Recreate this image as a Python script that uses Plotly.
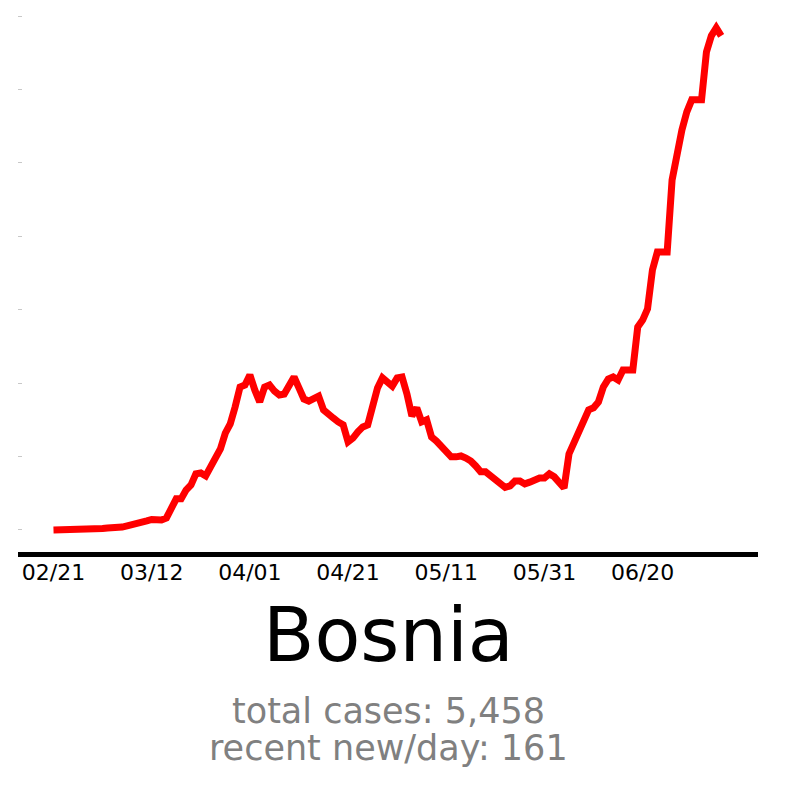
import pandas as pd
import plotly.graph_objects as go

# ---- data ----
start_date = "2020-02-21"
new_per_day = [
    0, 0, 0, 0, 0, 0, 0, 0, 0.2, 0.3,
    0.5, 0.7, 0.7, 0.9, 1.0, 1.4, 1.7, 2.0, 2.4, 3.1,
    3.6, 3.7, 3.4, 4.1, 6.8, 10.6, 10.6, 13.6, 15.3, 19.1,
    19.4, 18.4, 21.5, 24.2, 27.6, 33.0, 36.1, 41.9, 48.7, 49.4,
    52.8, 47.7, 43.6, 48.7, 49.4, 47.3, 46.0, 46.3, 49.7, 52.1,
    48.4, 44.6, 43.9, 44.6, 45.6, 40.9, 39.2, 38.1, 36.8, 35.8,
    30.0, 31.3, 33.4, 35.1, 35.8, 42.2, 48.4, 51.8, 50.4, 49.0,
    51.8, 52.1, 46.3, 38.8, 41.6, 36.8, 37.5, 31.7, 30.3, 28.6,
    27.2, 24.9, 24.9, 25.2, 24.5, 23.5, 21.8, 19.8, 19.8, 18.4,
    16.7, 15.3, 14.5, 15.0, 16.7, 16.7, 15.7, 16.3, 17.0, 17.7,
    17.7, 19.1, 18.1, 16.0, 14.3, 25.9, 29.6, 32.4, 37.1, 40.9,
    41.6, 43.6, 48.7, 51.4, 52.1, 51.1, 54.5, 54.5, 54.5, 69.1,
    71.5, 75.3, 88.6, 94.7, 94.7, 94.7, 119.2, 128.4, 136.2, 142.4,
    146.5, 146.5, 146.5, 162.8, 168.3, 171.0, 168.3,
]
dates = pd.date_range(start_date, periods=len(new_per_day), freq="D")

x_tick_dates = ["2020-02-21", "2020-03-12", "2020-04-01", "2020-04-21",
                "2020-05-11", "2020-05-31", "2020-06-20"]
x_tick_labels = ["02/21", "03/12", "04/01", "04/21", "05/11", "05/31", "06/20"]

country = "Bosnia"
total_cases = "5,458"
recent_new_per_day = "161"

y_tick_values = [0, 25, 50, 75, 100, 125, 150, 175]

# ---- figure ----
fig = go.Figure()
fig.add_trace(go.Scatter(
    x=dates, y=new_per_day, mode="lines",
    line=dict(color="#ff0000", width=7),
    hoverinfo="skip", showlegend=False,
))

font_family = "DejaVu Sans"

fig.update_layout(
    width=800, height=786,
    margin=dict(l=18, r=42, t=0, b=234),
    paper_bgcolor="white", plot_bgcolor="white",
    font=dict(family=font_family),
    xaxis=dict(
        type="date",
        range=["2020-02-13 18:30", "2020-07-13 12:00"],
        tickvals=x_tick_dates, ticktext=x_tick_labels,
        showgrid=False, zeroline=False,
        showline=True, linecolor="black", linewidth=5,
        ticks="", ticklabelstandoff=-3,
        tickfont=dict(family=font_family, size=22, color="black"),
    ),
    yaxis=dict(
        range=[-7.5, 180.5],
        tickvals=y_tick_values,
        showticklabels=False,
        showgrid=False, zeroline=False, showline=False,
        ticks="inside", ticklen=4, tickwidth=1, tickcolor="#c8c8c8",
    ),
    annotations=[
        dict(text=country, xref="paper", yref="paper", x=0.5, y=-0.1504,
             xanchor="center", yanchor="middle", showarrow=False,
             font=dict(family=font_family, size=75, color="black")),
        dict(text=f"total cases: {total_cases}", xref="paper", yref="paper",
             x=0.5, y=-0.2884, xanchor="center", yanchor="middle", showarrow=False,
             font=dict(family=font_family, size=35, color="#808080")),
        dict(text=f"recent new/day: {recent_new_per_day}", xref="paper", yref="paper",
             x=0.5, y=-0.3554, xanchor="center", yanchor="middle", showarrow=False,
             font=dict(family=font_family, size=35, color="#808080")),
    ],
)

fig.write_html(
    "out.html",
    config={"displayModeBar": False, "staticPlot": True},
    post_script="document.body.style.margin='0';document.body.style.overflow='hidden';",
)
